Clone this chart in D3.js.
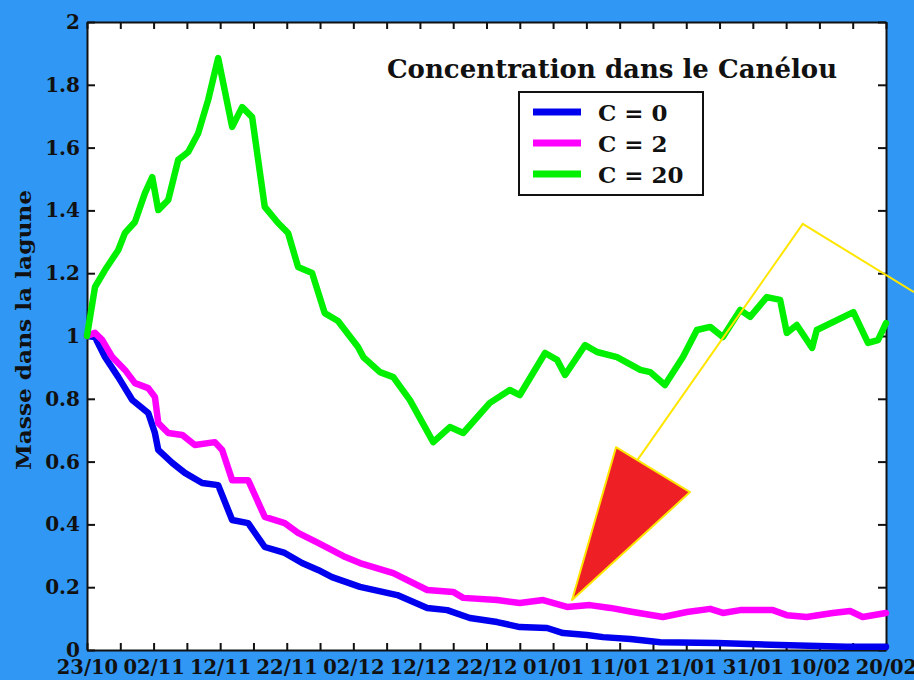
<!DOCTYPE html>
<html>
<head>
<meta charset="utf-8">
<script src="https://cdn.jsdelivr.net/npm/d3@7"></script>
<style>
  body { margin: 0; background: #3097f5; overflow: hidden; }
  svg { display: block; }
  .serif { font-family: "DejaVu Serif", "Liberation Serif", serif; font-weight: bold; fill: #111; }
  .axis path, .axis line { stroke: #111; stroke-width: 2; }
  .axis text { font-family: "DejaVu Serif", "Liberation Serif", serif; font-weight: bold; fill: #111; }
</style>
</head>
<body>
<svg id="chart"></svg>
<script>
const X_LABELS = ["23/10", "02/11", "12/11", "22/11", "02/12", "12/12", "22/12", "01/01", "11/01", "21/01", "31/01", "10/02", "20/02"];
const Y_TICKS = [0, 0.2, 0.4, 0.6, 0.8, 1, 1.2, 1.4, 1.6, 1.8, 2];

// days since 23/10, masse relative
const C0_DAYS = [0, 1.2, 2.7, 4.7, 6.8, 9.2, 10.2, 10.7, 12.8, 14.7, 17.3, 19.7, 21.8, 24.2, 26.7, 29.7, 32.3, 34.7, 36.8, 41, 46.6, 51.1, 54.1, 57.5, 61.6, 65, 69.1, 71.5, 75.1, 77.5, 81.6, 86.1, 94.6, 104.1, 114.1, 120];
const C0_MASS = [1, 0.997, 0.933, 0.869, 0.796, 0.755, 0.691, 0.637, 0.596, 0.564, 0.532, 0.525, 0.414, 0.404, 0.328, 0.309, 0.277, 0.255, 0.232, 0.201, 0.175, 0.134, 0.127, 0.102, 0.089, 0.073, 0.07, 0.054, 0.048, 0.041, 0.035, 0.025, 0.022, 0.016, 0.01, 0.01];

const C2_DAYS = [0, 1.2, 2.3, 3.8, 5.7, 7.2, 9.2, 10.2, 10.7, 12.2, 14.3, 16.2, 19.2, 20.3, 21.8, 24.2, 26.7, 29.7, 31.7, 34.7, 36.8, 38.8, 41, 46, 51.1, 55, 56.5, 61.6, 65, 68.5, 72.1, 75.5, 78.6, 82, 86.5, 90.1, 93.6, 95.5, 98.1, 103, 105.1, 108.1, 112, 114.6, 116.5, 120];
const C2_MASS = [1, 1.01, 0.987, 0.933, 0.892, 0.85, 0.834, 0.806, 0.723, 0.691, 0.685, 0.653, 0.662, 0.637, 0.541, 0.541, 0.424, 0.404, 0.373, 0.341, 0.318, 0.296, 0.277, 0.245, 0.191, 0.185, 0.166, 0.159, 0.15, 0.159, 0.137, 0.143, 0.134, 0.121, 0.105, 0.121, 0.131, 0.118, 0.127, 0.127, 0.111, 0.105, 0.118, 0.124, 0.105, 0.118];

const C20_DAYS = [0, 1.2, 2.7, 4.7, 5.7, 7.2, 8.7, 9.8, 10.7, 12.2, 13.7, 15.2, 16.7, 18.2, 19.7, 21.8, 23.3, 24.8, 26.7, 28.7, 30.2, 31.7, 33.8, 35.7, 37.7, 40.7, 41.5, 44, 46, 48.5, 52, 54.5, 56.5, 60.5, 63.5, 65, 68.8, 70.6, 71.8, 74.8, 76.6, 79.6, 83.1, 84.6, 86.8, 89.5, 91.6, 93.6, 95.5, 98.1, 99.6, 102.1, 104.1, 105.1, 106.6, 108.9, 109.6, 115.1, 117.3, 118.8, 120];
const C20_MASS = [1, 1.156, 1.21, 1.274, 1.328, 1.363, 1.455, 1.506, 1.401, 1.433, 1.561, 1.586, 1.646, 1.752, 1.885, 1.666, 1.729, 1.697, 1.411, 1.36, 1.328, 1.22, 1.201, 1.073, 1.048, 0.965, 0.933, 0.885, 0.869, 0.796, 0.662, 0.71, 0.691, 0.787, 0.828, 0.812, 0.946, 0.924, 0.876, 0.971, 0.949, 0.933, 0.892, 0.885, 0.844, 0.933, 1.019, 1.029, 0.997, 1.083, 1.061, 1.124, 1.115, 1.01, 1.035, 0.962, 1.019, 1.076, 0.978, 0.987, 1.041];

const SERIES_NAMES = ["C = 0", "C = 2", "C = 20"];
const SERIES_COLORS = ["#0000ee", "#ff00ff", "#00f000"];

// arrow annotation, in (days, masse)
const ARROW_LINE = [[124.2, 1.14], [107.5, 1.357], [82.5, 0.6]];
const ARROW_HEAD = [[79.45, 0.646], [90.57, 0.503], [72.85, 0.159]];

const WIDTH = 914, HEIGHT = 680;
const MARGIN = {top: 22, right: 28, bottom: 30, left: 87};
const CHART_WIDTH = WIDTH - MARGIN.left - MARGIN.right;
const CHART_HEIGHT = HEIGHT - MARGIN.top - MARGIN.bottom;

let x = d3.scaleLinear().domain([0, 120]).range([0, CHART_WIDTH]);
let y = d3.scaleLinear().domain([0, 2]).range([CHART_HEIGHT, 0]);

let svg = d3.select("#chart").attr("width", WIDTH).attr("height", HEIGHT);

let chart = svg.append("g")
               .attr("transform", `translate(${MARGIN.left},${MARGIN.top})`);

chart.append("rect")
     .attr("width", CHART_WIDTH)
     .attr("height", CHART_HEIGHT)
     .attr("fill", "#fff");

/* axes, ticks point inward on all four sides */
chart.append("g")
     .attr("class", "axis")
     .attr("transform", `translate(0,${CHART_HEIGHT})`)
     .call(d3.axisBottom(x)
             .tickValues(d3.range(0, 121, 5))
             .tickSizeInner(-7).tickSizeOuter(0)
             .tickPadding(10)
             .tickFormat(d => d % 10 === 0 ? X_LABELS[d / 10] : ""))
     .selectAll("text")
     .style("font-size", "19.5px");

chart.append("g")
     .attr("class", "axis")
     .call(d3.axisTop(x)
             .tickValues(d3.range(0, 121, 5))
             .tickSizeInner(-7).tickSizeOuter(0)
             .tickFormat(""));

chart.append("g")
     .attr("class", "axis")
     .call(d3.axisLeft(y)
             .tickValues(Y_TICKS)
             .tickSizeInner(-8).tickSizeOuter(0)
             .tickPadding(7)
             .tickFormat(d => String(d)))
     .selectAll("text")
     .style("font-size", "20px");

chart.append("g")
     .attr("class", "axis")
     .attr("transform", `translate(${CHART_WIDTH},0)`)
     .call(d3.axisRight(y)
             .tickValues(Y_TICKS)
             .tickSizeInner(-8).tickSizeOuter(0)
             .tickFormat(""));

svg.append("text")
   .attr("class", "serif")
   .attr("transform", "translate(31,330) rotate(-90)")
   .attr("text-anchor", "middle")
   .attr("textLength", 280)
   .attr("lengthAdjust", "spacingAndGlyphs")
   .style("font-size", "21px")
   .text("Masse dans la lagune");

/* the three curves */
const line = d3.line()
               .x(d => x(d[0]))
               .y(d => y(d[1]));

const series = [
  d3.zip(C0_DAYS, C0_MASS),
  d3.zip(C2_DAYS, C2_MASS),
  d3.zip(C20_DAYS, C20_MASS)
];

chart.selectAll(".curve")
     .data(series)
     .enter().append("path")
     .attr("class", "curve")
     .attr("d", line)
     .attr("fill", "none")
     .attr("stroke", (d, i) => SERIES_COLORS[i])
     .attr("stroke-width", 6.5)
     .attr("stroke-linejoin", "round")
     .attr("stroke-linecap", "round");

/* title and legend */
chart.append("text")
     .attr("class", "serif")
     .attr("x", 525)
     .attr("y", 56)
     .attr("text-anchor", "middle")
     .style("font-size", "26px")
     .text("Concentration dans le Canélou");

let legend = chart.append("g").attr("transform", "translate(432,70)");

legend.append("rect")
      .attr("width", 184)
      .attr("height", 103)
      .attr("fill", "#fff")
      .attr("stroke", "#111")
      .attr("stroke-width", 2);

let items = legend.selectAll(".item")
                  .data(SERIES_NAMES)
                  .enter().append("g")
                  .attr("transform", (d, i) => `translate(0,${20 + i * 31})`);

items.append("line")
     .attr("x1", 14).attr("x2", 62)
     .attr("stroke", (d, i) => SERIES_COLORS[i])
     .attr("stroke-width", 7);

items.append("text")
     .attr("class", "serif")
     .attr("x", 79)
     .attr("y", 9)
     .style("font-size", "23px")
     .text(d => d);

/* yellow pointer with red arrow head */
chart.append("path")
     .attr("d", d3.line().x(d => x(d[0])).y(d => y(d[1]))(ARROW_LINE))
     .attr("fill", "none")
     .attr("stroke", "#ffe600")
     .attr("stroke-width", 2);

chart.append("path")
     .attr("d", d3.line().x(d => x(d[0])).y(d => y(d[1]))(ARROW_HEAD) + "Z")
     .attr("fill", "#ee1f25")
     .attr("stroke", "#ffe600")
     .attr("stroke-width", 2)
     .attr("stroke-linejoin", "round");
</script>
</body>
</html>
